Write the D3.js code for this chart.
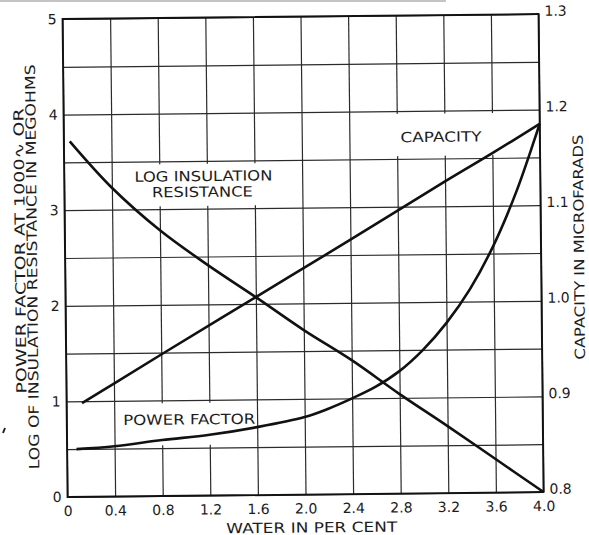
<!DOCTYPE html>
<html>
<head>
<meta charset="utf-8">
<script src="https://cdn.jsdelivr.net/npm/d3@7"></script>
<style>
  body { margin: 0; background: #fff; }
  text { font-family: "DejaVu Sans", sans-serif; fill: #1c1c1c; }
</style>
</head>
<body>
<div id="chart"></div>
<script>
// Values
// Power factor (left axis)
var pfWater = [0.08, 0.4, 0.8, 1.2, 1.6, 2.0, 2.2, 2.4, 2.6, 2.8, 3.0, 3.2, 3.4, 3.6, 3.8, 4.0];
var pfValue = [0.5, 0.525, 0.585, 0.635, 0.71, 0.81, 0.895, 1.0, 1.12, 1.28, 1.50, 1.78, 2.13, 2.58, 3.15, 3.85];

// Log insulation resistance (left axis)
var resWater = [0.05, 0.4, 0.8, 1.2, 1.6, 2.0, 2.4, 2.8, 3.2, 3.6, 4.0];
var resValue = [3.72, 3.23, 2.78, 2.41, 2.07, 1.72, 1.40, 1.04, 0.70, 0.35, 0.0];

// Capacity in microfarads (right axis)
var capWater = [0.13, 0.4, 0.8, 1.6, 2.4, 3.2, 3.6, 4.0];
var capValue = [0.898, 0.918, 0.948, 1.007, 1.066, 1.126, 1.155, 1.185];

var xTicks = [0, 0.4, 0.8, 1.2, 1.6, 2.0, 2.4, 2.8, 3.2, 3.6, 4.0];
var xTickLabels = ["0", "0.4", "0.8", "1.2", "1.6", "2.0", "2.4", "2.8", "3.2", "3.6", "4.0"];
var leftTicks = [0, 1, 2, 3, 4, 5];
var rightTicks = [0.8, 0.9, 1.0, 1.1, 1.2, 1.3];
var rightTickLabels = ["0.8", "0.9", "1.0", "1.1", "1.2", "1.3"];
var gridY = [0, 0.5, 1, 1.5, 2, 2.5, 3, 3.5, 4, 4.5, 5];

// Setting up the margins and the graph area
var W = 589, H = 535;
var margin = { top: 16.5, right: 48, bottom: 40.5, left: 65 },
    width = W - margin.left - margin.right,
    height = H - margin.top - margin.bottom;

var svg = d3.select('#chart').append('svg')
    .attr('width', W)
    .attr('height', H);

svg.append('rect').attr('width', W).attr('height', H).attr('fill', '#fff');
// grey edge of the scan and a speck at the left
svg.append('rect').attr('x', 0).attr('y', 0).attr('width', 446).attr('height', 2).attr('fill', '#c4c4c4');
svg.append('path').attr('d', 'M5,428 L3,433').attr('stroke', '#222').attr('stroke-width', 2);

// the scan is turned a little, so turn the whole chart with it
var g = svg.append('g')
    .attr('transform', 'rotate(-0.6,303,255) translate(' + margin.left + ',' + margin.top + ')');

var x = d3.scaleLinear().domain([0, 4]).range([0, width]);
var y = d3.scaleLinear().domain([0, 5]).range([height, 0]);
var yR = d3.scaleLinear().domain([0.8, 1.3]).range([height, 0]);

// Grid
var gx = g.append('g')
    .attr('transform', 'translate(0,' + height + ')')
    .call(d3.axisBottom(x).tickValues(xTicks).tickSize(-height).tickFormat(''));
var gy = g.append('g')
    .call(d3.axisLeft(y).tickValues(gridY).tickSize(-width).tickFormat(''));
[gx, gy].forEach(function (a) {
    a.select('.domain').remove();
    a.selectAll('line').attr('stroke', '#2b2b2b').attr('stroke-width', 1.2);
});

// White boxes behind the curve names (they break the grid)
var boxes = [
    { x0: 0.5, x1: 1.85, y0: 3.03, y1: 3.47 },
    { x0: 2.72, x1: 3.64, y0: 3.53, y1: 3.97 },
    { x0: 0.43, x1: 1.58, y0: 0.53, y1: 0.97 }
];
g.selectAll('rect.box').data(boxes).enter().append('rect')
    .attr('class', 'box')
    .attr('x', function (d) { return x(d.x0); })
    .attr('y', function (d) { return y(d.y1); })
    .attr('width', function (d) { return x(d.x1) - x(d.x0); })
    .attr('height', function (d) { return y(d.y0) - y(d.y1); })
    .attr('fill', '#fff');

// Frame
g.append('rect')
    .attr('width', width).attr('height', height)
    .attr('fill', 'none').attr('stroke', '#111').attr('stroke-width', 1.8);

// Tick labels
var bottom = g.append('g')
    .attr('transform', 'translate(0,' + height + ')')
    .call(d3.axisBottom(x).tickValues(xTicks).tickSize(0).tickPadding(9)
        .tickFormat(function (d, i) { return xTickLabels[i]; }));
var left = g.append('g')
    .call(d3.axisLeft(y).tickValues(leftTicks).tickSize(0).tickPadding(6).tickFormat(d3.format('d')));
var right = g.append('g')
    .attr('transform', 'translate(' + width + ',0)')
    .call(d3.axisRight(yR).tickValues(rightTicks).tickSize(0).tickPadding(6)
        .tickFormat(function (d, i) { return rightTickLabels[i]; }));
[bottom, left, right].forEach(function (a) {
    a.select('.domain').remove();
    a.selectAll('text').style('font', 'normal 14px "DejaVu Sans"').attr('fill', '#1c1c1c');
});
right.selectAll('text').attr('dy', '0.1em');

// Curves
var line = d3.line()
    .x(function (d) { return x(d[0]); })
    .y(function (d) { return d[1]; })
    .curve(d3.curveCatmullRom.alpha(0.5));

var pfPts = pfWater.map(function (w, i) { return [w, y(pfValue[i])]; });
var resPts = resWater.map(function (w, i) { return [w, y(resValue[i])]; });
var capPts = capWater.map(function (w, i) { return [w, yR(capValue[i])]; });

[pfPts, resPts, capPts].forEach(function (pts) {
    g.append('path')
        .datum(pts)
        .attr('d', line)
        .attr('fill', 'none')
        .attr('stroke', '#111')
        .attr('stroke-width', 2.6)
        .attr('stroke-linejoin', 'round');
});

// Curve names
var notes = [
    { text: 'LOG INSULATION', x: 1.17, y: 3.29, len: 138 },
    { text: 'RESISTANCE', x: 1.16, y: 3.125, len: 101 },
    { text: 'CAPACITY', x: 3.17, y: 3.675, len: 81 },
    { text: 'POWER FACTOR', x: 1.03, y: 0.746, len: 132 }
];
g.selectAll('text.note').data(notes).enter().append('text')
    .attr('class', 'note')
    .attr('x', function (d) { return x(d.x); })
    .attr('y', function (d) { return y(d.y); })
    .attr('text-anchor', 'middle')
    .attr('textLength', function (d) { return d.len; })
    .attr('lengthAdjust', 'spacingAndGlyphs')
    .style('font-size', '14px')
    .text(function (d) { return d.text; });

// Axis titles
g.append('text')
    .attr('transform', 'translate(-40,' + (248 - margin.top) + ') rotate(-90)')
    .attr('text-anchor', 'middle')
    .attr('textLength', 285).attr('lengthAdjust', 'spacingAndGlyphs')
    .style('font-size', '14px')
    .text('POWER FACTOR AT 1000\u223F OR');

g.append('text')
    .attr('transform', 'translate(-28,' + (264 - margin.top) + ') rotate(-90)')
    .attr('text-anchor', 'middle')
    .attr('textLength', 405).attr('lengthAdjust', 'spacingAndGlyphs')
    .style('font-size', '14px')
    .text('LOG OF INSULATION RESISTANCE IN MEGOHMS');

g.append('text')
    .attr('transform', 'translate(' + (width + 43) + ',' + (250 - margin.top) + ') rotate(-90)')
    .attr('text-anchor', 'middle')
    .attr('textLength', 225).attr('lengthAdjust', 'spacingAndGlyphs')
    .style('font-size', '14px')
    .text('CAPACITY IN MICROFARADS');

g.append('text')
    .attr('x', x(2.05))
    .attr('y', height + 38)
    .attr('text-anchor', 'middle')
    .attr('textLength', 171).attr('lengthAdjust', 'spacingAndGlyphs')
    .style('font-size', '14px')
    .text('WATER IN PER CENT');
</script>
</body>
</html>
